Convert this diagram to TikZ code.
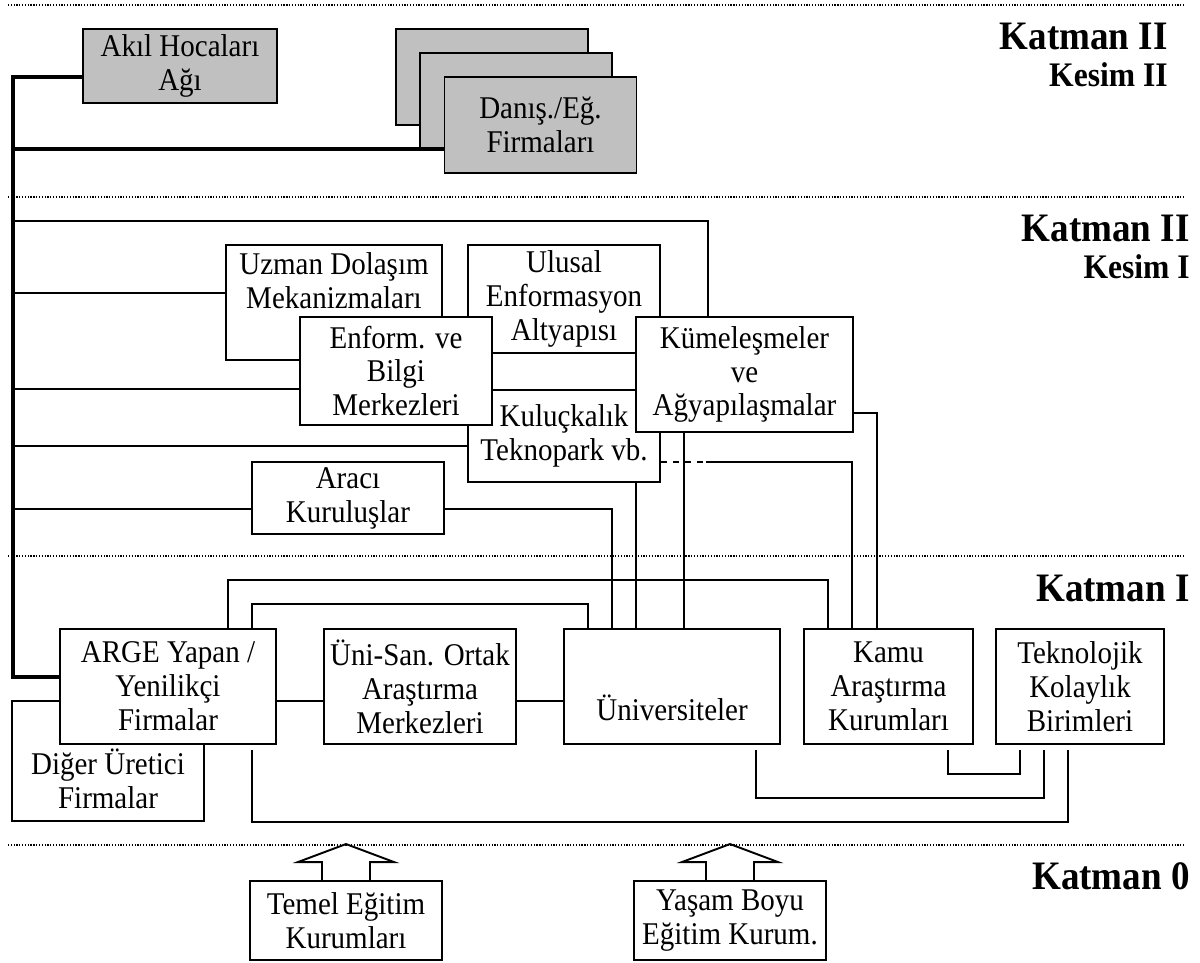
\documentclass[tikz,border=0pt]{standalone}
\usepackage{fontspec}
\setmainfont{Liberation Serif}[FakeStretch=0.917]
\usepackage{tikz}
\usetikzlibrary{calc, positioning}
\definecolor{boxgray}{RGB}{192, 192, 192}

\begin{document}
\begin{tikzpicture}[x=0.02cm, y=-0.02cm, font=\fontsize{18}{19.3}\selectfont,
    box/.style 2 args={draw, line width=1.1pt, fill=white, align=center, inner sep=0pt,
      minimum width=#1*0.02cm, minimum height=#2*0.02cm},
    link/.style={line width=0.9pt},
    busline/.style={line width=2.2pt},
    sepline/.style={line width=0.7pt, dash pattern=on 0.7pt off 0.9pt},
    layer/.style={font=\bfseries\fontsize{23}{27}\selectfont, anchor=base east, inner sep=0pt},
    kesim/.style={font=\bfseries\fontsize{19.6}{23}\selectfont, anchor=base east, inner sep=0pt}]
  \useasboundingbox (0,0) rectangle (1200,963);

  % layer separators
  \foreach \y in {5, 197, 556, 845} {
    \draw[sepline] (8,\y) -- (1185,\y);
  }
  \node[layer] (k2a) at (1168,50) {Katman II};
  \node[kesim] (s2) at (1168,87) {Kesim II};
  \node[layer] (k2b) at (1190,241) {Katman II};
  \node[kesim] (s1) at (1190,278) {Kesim I};
  \node[layer] (k1) at (1190,601) {Katman I};
  \node[layer] (k0) at (1190,889) {Katman 0};

  % Katman II, Kesim II
  \node[box={194}{74}, fill=boxgray] (akil) at (180,66) {Akıl Hocaları\\Ağı};
  \node[box={192}{96}, fill=boxgray] (danisC) at (492,77) {};
  \node[box={192}{96}, fill=boxgray] (danisB) at (516,101) {};
  \node[box={192}{96}, fill=boxgray] (danis) at (540.5,125) {Danış./Eğ.\\Firmaları};

  % Katman II, Kesim I
  \node[box={216}{115}] (uzman) at (334,302.5) {Uzman Dolaşım\\Mekanizmaları\\\strut};
  \node[box={192}{108}] (ulusal) at (564,299) {Ulusal\\Enformasyon\\Altyapısı};
  \node[box={192}{92}] (kulucka) at (564,436) {Kuluçkalık\\Teknopark vb.};
  \node[box={192}{108}] (enform) at (396,371) {Enform. ve\\Bilgi\\Merkezleri};
  \node[box={217}{115}] (kume) at (744.5,374.5) {Kümeleşmeler\\ve\\Ağyapılaşmalar};
  \node[box={192}{72}] (araci) at (348,498) {Aracı\\Kuruluşlar};

  % Katman I
  \node[box={192}{120}] (diger) at (108,761) {\strut\\Diğer Üretici\\Firmalar};
  \node[box={216}{115}] (arge) at (168,686.5) {ARGE Yapan /\\Yenilikçi\\Firmalar};
  \node[box={192}{115}] (unisan) at (420,686.5) {Üni-San. Ortak\\Araştırma\\Merkezleri};
  \node[box={216}{115}] (univ) at (672,686.5) {\mbox{}\\\mbox{}\\Üniversiteler};
  \node[box={169}{115}] (kamu) at (888.5,686.5) {Kamu\\Araştırma\\Kurumları};
  \node[box={168}{115}] (tekno) at (1080,686.5) {Teknolojik\\Kolaylık\\Birimleri};

  % Katman 0
  \node[box={192}{79}] (temel) at (346,920.5) {Temel Eğitim\\Kurumları};
  \node[box={192}{79}] (yasam) at (730,920.5) {Yaşam Boyu\\Eğitim Kurum.};
  \foreach \n in {temel, yasam} {
    \draw[line width=1.1pt, line join=miter] ($(\n.north)+(-24,0)$) -- ++(0,-18) -- ++(-24,0)
      -- ($(\n.north)+(0,-36)$) -- ($(\n.north)+(48,-18)$) -- ++(-24,0) -- ++(0,18);
  }

  % thick bus on the left
  \coordinate (spinetop) at (12.7,77);
  \coordinate (spinebot) at (12.7,677);
  \coordinate (toprow) at (12.7,221);
  \draw[busline] ($(akil.west)+(0,11)$) -| (spinebot) -- ($(arge.west)+(0,-9.5)$);
  \coordinate (danisin) at ($(danis.west)+(0,24)$);
  \draw[busline] (danisin) -- (danisin -| spinetop);

  % branches of the bus
  \foreach \n/\dy in {uzman/-9.5, enform/18, kulucka/10, araci/11} {
    \coordinate (tap) at ($(\n.west)+(0,\dy)$);
    \draw[link] (tap) -- (tap -| spinetop);
  }
  \draw[link] ($(kume.north)+(-36.5,0)$) |- (toprow);

  % Kesim I to Katman I
  \draw[link] ($(kume.east)+(0,38.5)$) -| ($(kamu.north)+(-11.5,0)$);
  \coordinate (dashend) at ($(kulucka.east)+(45,26)$);
  \draw[link, dash pattern=on 3.4pt off 3.4pt] ($(kulucka.east)+(0,26)$) -- (dashend);
  \draw[link] (dashend) -| ($(kamu.north)+(-36.5,0)$);
  \draw[link] ($(kume.south)+(-60.5,0)$) -- ($(univ.north)+(12,0)$);
  \draw[link] ($(kulucka.south)+(72,0)$) -- ($(univ.north)+(-36,0)$);
  \draw[link] ($(araci.east)+(0,11)$) -| ($(univ.north)+(-60,0)$);

  % Katman I links
  \draw[link] ($(arge.north)+(60,0)$) -- ++(0,-48) -| ($(kamu.north)+(-60.5,0)$);
  \draw[link] ($(arge.north)+(84,0)$) -- ++(0,-24) -| ($(univ.north)+(-84,0)$);
  \draw[link] ($(arge.east)+(0,14.5)$) -- ($(unisan.west)+(0,14.5)$);
  \draw[link] ($(unisan.east)+(0,14.5)$) -- ($(univ.west)+(0,14.5)$);
  \draw[link] ($(arge.south)+(84,5)$) -- ++(0,72) -| ($(tekno.south)+(-12,5)$);
  \draw[link] ($(univ.south)+(84,5)$) -- ++(0,48) -| ($(tekno.south)+(-36,5)$);
  \draw[link] ($(kamu.south)+(59.5,5)$) -- ++(0,24) -| ($(tekno.south)+(-60,5)$);
\end{tikzpicture}
\end{document}
